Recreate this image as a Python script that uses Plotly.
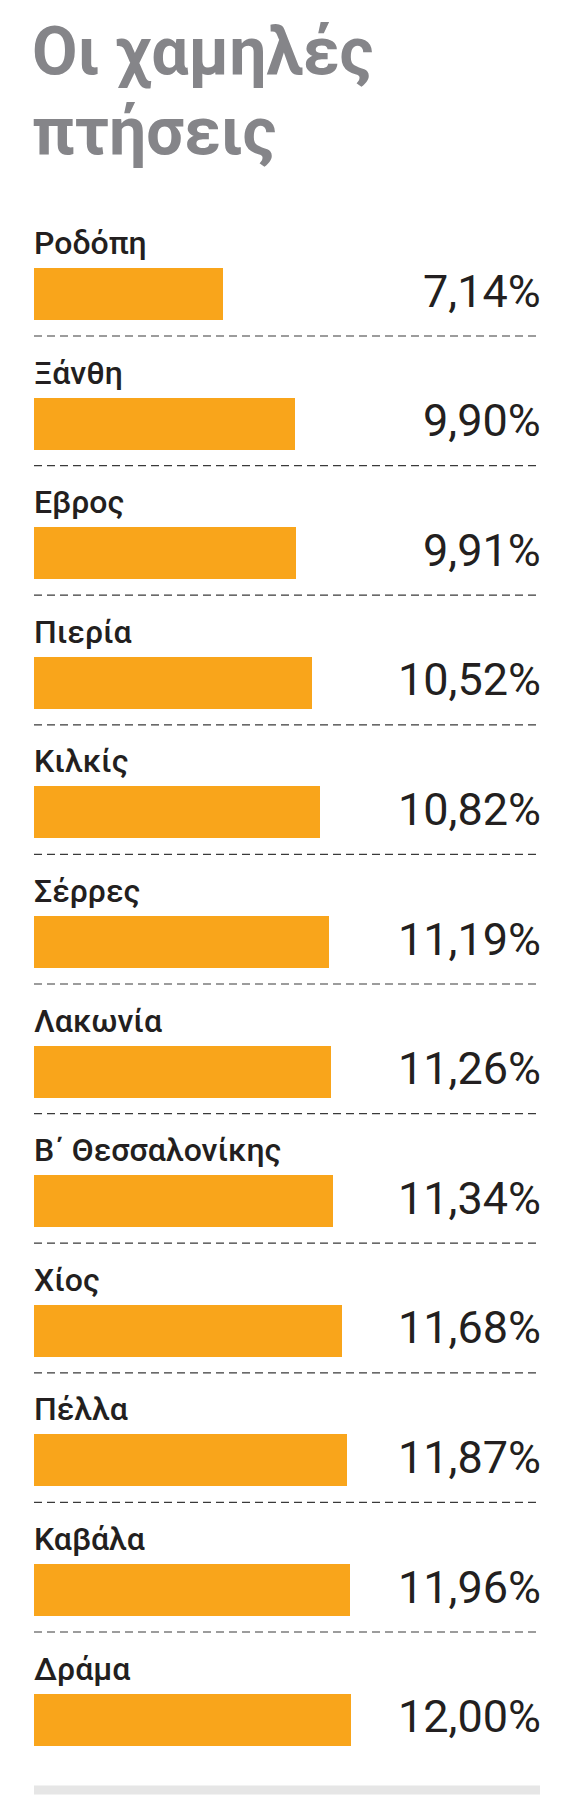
import plotly.graph_objects as go

# data
regions = ["Ροδόπη", "Ξάνθη", "Εβρος", "Πιερία", "Κιλκίς", "Σέρρες", "Λακωνία",
           "Β΄ Θεσσαλονίκης", "Χίος", "Πέλλα", "Καβάλα", "Δράμα"]
values = [7.14, 9.90, 9.91, 10.52, 10.82, 11.19, 11.26, 11.34, 11.68, 11.87, 11.96, 12.00]
value_labels = ["7,14%", "9,90%", "9,91%", "10,52%", "10,82%", "11,19%", "11,26%",
                "11,34%", "11,68%", "11,87%", "11,96%", "12,00%"]
title_lines = ["Οι χαμηλές", "πτήσεις"]

W, H = 566, 1811
OFF = 8  # page body margin
PITCH = 129.6
TOP = -(294 - OFF) / PITCH
X0 = 34 - OFF
X1 = 540 - OFF
PX_PER_UNIT = 26.4
BAR_C = "#f9a51b"
TXT = "#231f20"
GREY = "#858589"

fig = go.Figure()
fig.add_trace(go.Bar(x=values, y=list(range(len(regions))), orientation="h",
                     marker=dict(color=BAR_C, line=dict(width=0)), width=52 / PITCH,
                     hoverinfo="skip", showlegend=False))

ann = []
for i, (r, v) in enumerate(zip(regions, value_labels)):
    ann.append(dict(x=0, y=i, xref="x", yref="y", text=r, showarrow=False,
                    xanchor="left", yanchor="bottom", yshift=30, xshift=-2,
                    font=dict(family="Roboto", size=32, color=TXT, weight=500)))
    ann.append(dict(x=(X1 + 3) / W, y=i, xref="paper", yref="y", text=v, showarrow=False,
                    xanchor="right", yanchor="middle", yshift=3,
                    font=dict(family="Roboto", size=45, color=TXT)))

for k, t in enumerate(title_lines):
    ann.append(dict(x=(30 - OFF) / W, y=1 - (3 + k * 80) / H, xref="paper", yref="paper", text=t,
                    showarrow=False, xanchor="left", yanchor="top",
                    font=dict(family="Roboto", size=66, color=GREY, weight="bold")))

shapes = []
for i in range(len(regions) - 1):
    shapes.append(dict(type="line", xref="paper", yref="y", x0=X0 / W, x1=X1 / W,
                       y0=i + 42 / PITCH, y1=i + 42 / PITCH,
                       line=dict(color="#3a3a3a", width=1.2, dash="8px,5px")))
last = len(regions) - 1
shapes.append(dict(type="rect", xref="paper", yref="y", x0=X0 / W, x1=X1 / W,
                   y0=last + 66 / PITCH, y1=last + 75 / PITCH,
                   fillcolor="#e6e6e6", line=dict(width=0)))

fig.update_layout(
    width=W, height=H, margin=dict(l=0, r=0, t=0, b=0),
    paper_bgcolor="white", plot_bgcolor="white",
    xaxis=dict(domain=[X0 / W, 1], range=[0, (W - X0) / PX_PER_UNIT], visible=False, fixedrange=True),
    yaxis=dict(range=[TOP + H / PITCH, TOP], visible=False, fixedrange=True),
    annotations=ann, shapes=shapes, bargap=0,
)

fig.write_html("out.html", config={"displayModeBar": False})
